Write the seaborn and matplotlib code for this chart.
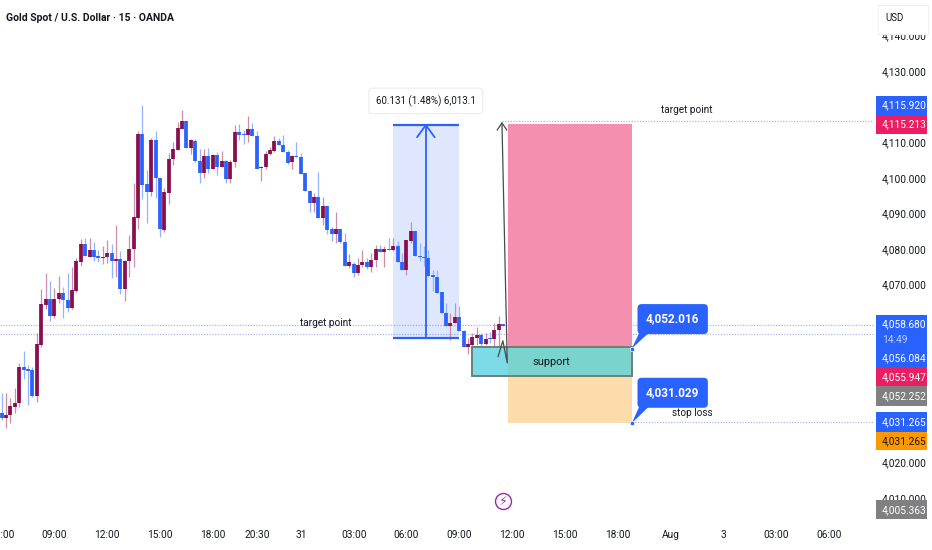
import pandas as pd
import matplotlib
matplotlib.use('Agg')
import matplotlib.pyplot as plt
import seaborn as sns
from matplotlib.patches import Rectangle

opens = [4033.8, 4032.4, 4033.4, 4035.7, 4036.7, 4046.9, 4046.2, 4046.0, 4038.8, 4053.0,
         4064.3, 4066.0, 4061.3, 4066.0, 4067.5, 4065.8, 4063.3, 4068.2, 4076.3, 4081.3,
         4077.8, 4079.6, 4078.0, 4077.6, 4077.7, 4078.9, 4076.6, 4077.2, 4068.8, 4076.6,
         4079.9, 4088.7, 4112.3, 4098.3, 4096.0, 4110.5, 4099.8, 4085.3, 4095.8, 4105.3,
         4107.8, 4113.8, 4115.9, 4108.3, 4110.4, 4104.7, 4101.3, 4106.0, 4102.5, 4106.4,
         4103.1, 4104.8, 4099.6, 4104.5, 4112.8, 4112.2, 4112.0, 4113.8, 4111.7, 4102.8,
         4103.0, 4106.7, 4107.5, 4110.3, 4109.2, 4107.2, 4104.3, 4106.1, 4105.9, 4101.3,
         4096.3, 4093.0, 4094.7, 4088.7, 4092.0, 4085.5, 4084.2, 4085.5, 4082.0, 4075.2,
         4075.8, 4073.3, 4075.4, 4076.3, 4074.8, 4076.8, 4080.0, 4079.2, 4080.0, 4079.6,
         4080.8, 4076.3, 4074.1, 4082.2, 4085.0, 4078.1, 4077.8, 4077.6, 4072.6, 4072.2,
         4067.8, 4062.1, 4058.4, 4059.3, 4060.9, 4056.9, 4052.5, 4053.0, 4055.1, 4055.9,
         4053.2, 4055.0, 4054.6, 4057.1, 4058.8]
highs = [4039.4, 4039.4, 4038.0, 4040.9, 4047.9, 4051.4, 4047.4, 4046.8, 4056.3, 4068.7,
         4073.2, 4071.0, 4069.0, 4072.4, 4069.4, 4073.2, 4075.0, 4077.6, 4082.7, 4083.0,
         4083.0, 4082.0, 4079.7, 4080.8, 4082.5, 4081.4, 4086.7, 4079.4, 4076.9, 4083.9,
         4098.6, 4113.0, 4120.4, 4102.2, 4111.1, 4113.2, 4099.8, 4097.0, 4106.9, 4110.1,
         4115.8, 4119.0, 4116.2, 4110.8, 4110.8, 4108.0, 4108.0, 4108.3, 4106.7, 4107.3,
         4107.5, 4105.0, 4105.0, 4114.8, 4115.1, 4113.4, 4117.4, 4115.3, 4113.0, 4103.3,
         4107.6, 4108.7, 4111.6, 4111.3, 4112.0, 4107.8, 4106.4, 4110.1, 4106.9, 4101.3,
         4096.6, 4095.8, 4101.7, 4094.7, 4092.1, 4086.3, 4090.3, 4085.5, 4084.4, 4078.6,
         4076.4, 4077.4, 4079.7, 4077.4, 4078.8, 4081.1, 4081.1, 4080.7, 4083.2, 4083.0,
         4082.1, 4078.8, 4082.5, 4087.5, 4085.0, 4081.6, 4080.7, 4079.7, 4074.1, 4074.1,
         4067.8, 4064.7, 4061.9, 4064.7, 4064.0, 4057.1, 4054.9, 4056.3, 4058.2, 4056.3,
         4056.3, 4056.8, 4059.3, 4061.2, 4058.8]
lows = [4032.0, 4029.6, 4031.2, 4033.8, 4035.7, 4043.4, 4036.2, 4038.5, 4037.1, 4052.4,
        4063.1, 4059.8, 4060.5, 4064.7, 4060.7, 4062.4, 4063.2, 4068.0, 4075.3, 4078.0,
        4077.8, 4076.6, 4076.2, 4075.8, 4076.0, 4071.8, 4072.0, 4067.4, 4065.4, 4072.2,
        4075.0, 4085.6, 4094.0, 4087.4, 4094.9, 4094.2, 4083.5, 4084.9, 4092.6, 4103.6,
        4107.8, 4113.6, 4108.4, 4106.7, 4104.5, 4098.6, 4100.0, 4101.3, 4102.4, 4100.8,
        4103.0, 4098.6, 4098.6, 4103.0, 4110.6, 4109.4, 4110.0, 4111.6, 4102.6, 4099.2,
        4102.6, 4106.4, 4107.3, 4109.2, 4107.1, 4103.9, 4102.4, 4105.8, 4101.1, 4096.3,
        4090.5, 4090.5, 4088.7, 4086.7, 4084.1, 4082.1, 4081.8, 4081.8, 4075.2, 4074.6,
        4072.2, 4072.6, 4075.0, 4074.4, 4073.4, 4075.0, 4079.2, 4074.8, 4079.8, 4079.5,
        4076.3, 4074.1, 4072.7, 4081.8, 4078.0, 4076.7, 4075.2, 4072.4, 4068.2, 4067.7,
        4062.1, 4058.4, 4054.4, 4059.1, 4056.9, 4052.5, 4050.5, 4052.6, 4053.0, 4052.6,
        4053.0, 4053.5, 4052.6, 4052.6, 4058.5]
closes = [4032.4, 4033.4, 4035.9, 4036.7, 4046.9, 4046.0, 4045.8, 4038.8, 4053.3, 4064.5,
          4066.0, 4061.3, 4066.0, 4067.5, 4065.7, 4063.3, 4068.5, 4076.5, 4081.3, 4078.0,
          4079.6, 4077.7, 4077.5, 4077.8, 4078.9, 4076.6, 4077.1, 4068.8, 4076.7, 4080.1,
          4088.9, 4112.2, 4098.1, 4096.0, 4110.5, 4099.8, 4085.6, 4096.0, 4105.4, 4108.0,
          4114.0, 4115.9, 4108.4, 4110.6, 4104.7, 4101.3, 4106.0, 4102.6, 4106.4, 4103.1,
          4104.7, 4099.6, 4104.5, 4112.8, 4112.0, 4111.9, 4113.7, 4111.6, 4102.6, 4103.0,
          4106.8, 4107.8, 4110.3, 4109.2, 4107.1, 4104.2, 4106.0, 4105.8, 4101.2, 4096.3,
          4092.9, 4094.7, 4088.7, 4092.0, 4085.4, 4084.2, 4085.5, 4081.9, 4075.2, 4076.2,
          4073.3, 4075.6, 4076.3, 4074.9, 4076.9, 4080.0, 4079.2, 4080.0, 4079.8, 4080.8,
          4076.3, 4074.1, 4082.5, 4085.0, 4078.0, 4077.7, 4077.6, 4072.4, 4072.2, 4067.7,
          4062.1, 4058.4, 4059.3, 4061.0, 4056.9, 4052.5, 4053.2, 4055.3, 4055.9, 4053.2,
          4054.8, 4054.7, 4057.1, 4058.9, 4058.5]

time_ticks = [0, 12, 24, 36, 48, 58, 68, 80, 92, 104, 116, 128, 140, 152, 164, 176, 188]
time_labels = ['06:00', '09:00', '12:00', '15:00', '18:00', '20:30', '31', '03:00', '06:00',
               '09:00', '12:00', '15:00', '18:00', 'Aug', '3', '03:00', '06:00']
price_ticks = [4010, 4020, 4060, 4070, 4080, 4090, 4100, 4110, 4130, 4140]

BLUE = '#2962FF'
MAROON = '#880E4F'
INK = '#131722'
SMALL = 7.3

sns.set_style('white')
plt.rcParams['font.family'] = ['Roboto', 'DejaVu Sans']

fig = plt.figure(figsize=(9.32, 5.5), dpi=100)
ax = fig.add_axes([0, 28 / 550, 874 / 932, 522 / 550])

candles = pd.DataFrame({'i': range(len(opens)), 'open': opens, 'high': highs,
                        'low': lows, 'close': closes})
candles['dir'] = ['up' if c >= o else 'down' for o, c in zip(opens, closes)]

wicks = candles.melt(id_vars=['i', 'dir'], value_vars=['low', 'high'], value_name='price')
bodies = candles.melt(id_vars=['i', 'dir'], value_vars=['open', 'close'], value_name='price')

sns.lineplot(data=wicks, x='i', y='price', units='i', estimator=None, hue='dir', sort=False,
             palette={'up': '#CC8FAB', 'down': '#93B2FF'}, linewidth=0.9, legend=False,
             solid_capstyle='butt', ax=ax, zorder=3)
sns.lineplot(data=bodies, x='i', y='price', units='i', estimator=None, hue='dir', sort=False,
             palette={'up': MAROON, 'down': BLUE}, linewidth=2.7, legend=False,
             solid_capstyle='butt', ax=ax, zorder=3)

ax.set_xlim(-0.38, 198.25)
ax.set_ylim(4003.3, 4149.94)
sns.despine(ax=ax, left=True, bottom=True)
ax.set_xlabel('')
ax.set_ylabel('')
ax.set_xticks(time_ticks, time_labels)
ax.set_yticks(price_ticks, [f'{p:,.3f}' for p in price_ticks])
ax.yaxis.tick_right()
ax.tick_params(axis='both', length=0, labelsize=SMALL, labelcolor=INK)
ax.tick_params(axis='y', pad=5.5)
ax.tick_params(axis='x', pad=6)

# price lines
dot = dict(color='#AEB6EA', linewidth=0.9, linestyle=(0, (1, 1.2)), zorder=2)
ax.hlines([4058.68, 4056.084], -0.38, 198.25, **dot)
ax.hlines(4115.92, 113.7, 198.25, **dot)
ax.hlines(4031.265, 143.2, 198.25, **dot)

# measure box
ax.add_patch(Rectangle((88.9, 4054.9), 15.0, 59.9, fc=BLUE, alpha=0.15, lw=0, zorder=2))
ax.hlines([4114.8, 4054.9], 88.9, 103.9, color=BLUE, linewidth=1.6, zorder=4)
ax.plot([96.4, 96.4], [4054.9, 4114.8], color=BLUE, linewidth=1.3, zorder=4)
ax.plot([94.4, 96.4, 98.4], [4111.4, 4114.8, 4111.4], color=BLUE, linewidth=1.3, zorder=4)
ax.text(96.4, 4121.6, '60.131 (1.48%) 6,013.1', ha='center', va='center', fontsize=7,
        color=INK, zorder=7,
        bbox=dict(boxstyle='round,pad=0.72,rounding_size=0.3', fc='white', ec='#EDEDED', lw=0.8))

# position zones
ax.add_patch(Rectangle((115.05, 4052.2), 28.15, 62.9, fc='#F58FB0', lw=0, zorder=4))
ax.add_patch(Rectangle((115.05, 4031.1), 28.15, 13.2, fc='#FDDCAB', lw=0, zorder=4))
ax.add_patch(Rectangle((106.9, 4044.3), 36.3, 8.2, fc='#7BDBE6', ec='#6E7F78', lw=1.4, zorder=5))
ax.add_patch(Rectangle((115.05, 4044.5), 28.0, 7.8, fc='#7BD3CD', lw=0, zorder=5))
ax.text(124.9, 4048.3, 'support', ha='center', va='center', fontsize=7.9, color=INK, zorder=7)

# thin arrow
ax.plot([112.8, 113.9, 114.9, 113.7], [4049.7, 4054.2, 4048.0, 4115.4], color='#4A4A4A',
        linewidth=0.9, zorder=6)
ax.plot([112.6, 113.7, 114.8], [4113.4, 4115.4, 4113.4], color='#4A4A4A', linewidth=0.9, zorder=6)

# text notes
ax.text(73.7, 4059.2, 'target point', ha='center', va='center', fontsize=7.2, color=INK, zorder=7)
ax.text(155.8, 4118.9, 'target point', ha='center', va='center', fontsize=7.2, color=INK, zorder=7)
ax.text(157.0, 4033.9, 'stop loss', ha='center', va='center', fontsize=7.2, color=INK, zorder=7)

# callouts
for label, level, mid in [('4,052.016', 4052.016, 4060.3), ('4,031.029', 4031.029, 4039.6)]:
    ax.fill([143.2, 145.0, 147.3], [level, mid - 3.6, mid - 3.6], color=BLUE, lw=0, zorder=7)
    ax.plot(143.2, level, 'o', ms=3.2, mfc=BLUE, mec='white', mew=0.5, zorder=8)
    ax.text(152.5, mid, label, ha='center', va='center', fontsize=8.5, fontweight='bold',
            color='white', zorder=8,
            bbox=dict(boxstyle='round,pad=0.72,rounding_size=0.35', fc=BLUE, lw=0))

# price tags on the right scale
axis_x = ax.get_yaxis_transform()
tags = [(4117.6, 4123.0, BLUE), (4112.3, 4117.6, '#E91E63'), (4046.6, 4061.5, BLUE),
        (4041.5, 4046.6, '#E91E63'), (4035.9, 4041.5, '#808080'), (4028.6, 4034.2, BLUE),
        (4023.5, 4028.6, '#FF9800'), (4004.2, 4009.5, '#808080')]
for lo, hi, colour in tags:
    ax.add_patch(Rectangle((1.002, lo), 0.0583, hi - lo, transform=axis_x, fc=colour, lw=0,
                           clip_on=False, zorder=5))
tag_texts = [('4,115.920', 4120.4, 'white'), ('4,115.213', 4115.1, 'white'),
             ('4,058.680', 4058.9, 'white'), ('14:49', 4054.4, '#BBD0FF'),
             ('4,056.084', 4049.4, 'white'), ('4,055.947', 4044.0, 'white'),
             ('4,052.252', 4038.7, 'white'), ('4,031.265', 4031.4, 'white'),
             ('4,031.265', 4026.1, INK), ('4,005.363', 4006.7, 'white')]
for label, level, colour in tag_texts:
    ax.text(1.0092, level, label, transform=axis_x, ha='left', va='center', fontsize=SMALL,
            color=colour, clip_on=False, zorder=6)

# currency button
ax.add_patch(Rectangle((1.0046, 4140.3), 0.0572, 8.2, transform=axis_x, fc='white', ec='#F0F0F0',
                       lw=0.8, clip_on=False, zorder=5))
ax.text(1.0126, 4144.9, 'USD', transform=axis_x, ha='left', va='center', fontsize=7,
        color=INK, clip_on=False, zorder=6)

# title
ax.text(1.0, 4144.9, 'Gold Spot / U.S. Dollar · 15 · OANDA', ha='left', va='center', fontsize=7.5,
        fontweight='bold', color=INK, zorder=7)

# lightning marker
ax.plot(113.9, 4009.3, 'o', ms=11.5, mfc='white', mec='#9C27B0', mew=1.0, zorder=6)
ax.text(113.9, 4009.3, '⚡', ha='center', va='center', fontsize=9, color='#9C27B0',
        family='DejaVu Sans', zorder=7)

fig.savefig('out.png', dpi=100)
